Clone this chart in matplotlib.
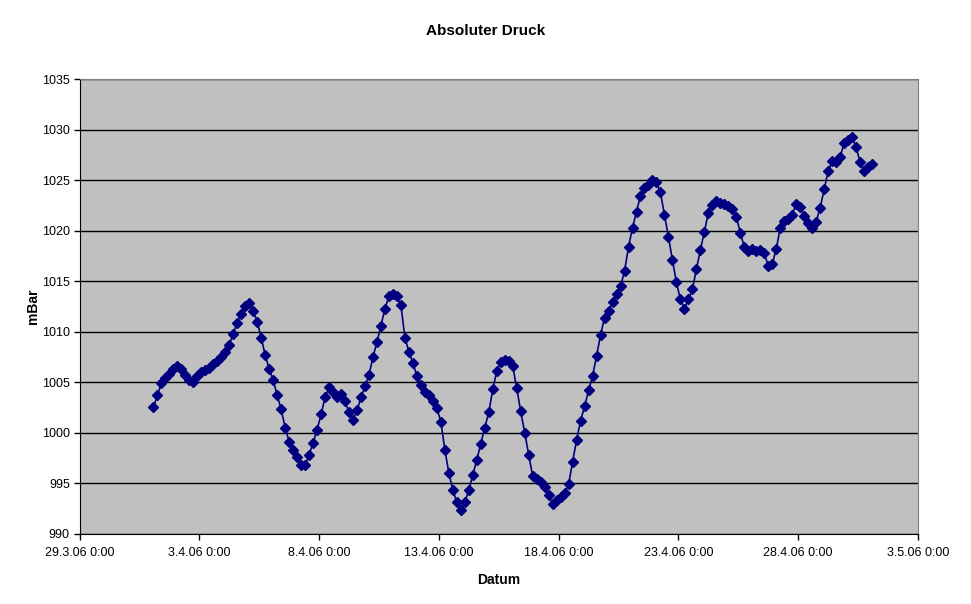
import datetime as dt
import numpy as np
import pandas as pd
import matplotlib
matplotlib.use("Agg")
import matplotlib.pyplot as plt
import matplotlib.dates as mdates
from matplotlib.ticker import FuncFormatter

plt.rcParams['font.family'] = ['Liberation Sans', 'DejaVu Sans']

# Messwerte alle 4 Stunden ab 1.4.06 2:00 (6 Werte pro Tag)
start = '2006-04-01 02:00'
druck = [
    1002.5, 1003.7, 1004.9, 1005.4, 1005.8, 1006.3,   # 1.4
    1006.6, 1006.3, 1005.7, 1005.2, 1005.0, 1005.6,   # 2.4
    1006.0, 1006.2, 1006.4, 1006.8, 1007.1, 1007.5,   # 3.4
    1008.0, 1008.7, 1009.8, 1010.9, 1011.8, 1012.5,   # 4.4
    1012.8, 1012.1, 1011.0, 1009.4, 1007.7, 1006.3,   # 5.4
    1005.2, 1003.7, 1002.3, 1000.5, 999.1, 998.3,     # 6.4
    997.6, 996.8, 996.8, 997.8, 999.0, 1000.3,        # 7.4
    1001.8, 1003.5, 1004.5, 1004.0, 1003.5, 1003.8,   # 8.4
    1003.1, 1002.0, 1001.3, 1002.2, 1003.5, 1004.6,   # 9.4
    1005.7, 1007.5, 1009.0, 1010.6, 1012.3, 1013.5,   # 10.4
    1013.7, 1013.5, 1012.6, 1009.4, 1008.0, 1006.9,   # 11.4
    1005.6, 1004.7, 1004.0, 1003.7, 1003.1, 1002.4,   # 12.4
    1001.1, 998.3, 996.0, 994.3, 993.1, 992.3,        # 13.4
    993.1, 994.3, 995.8, 997.3, 998.9, 1000.5,        # 14.4
    1002.0, 1004.3, 1006.1, 1007.0, 1007.2, 1007.1,   # 15.4
    1006.6, 1004.4, 1002.1, 1000.0, 997.8, 995.7,     # 16.4
    995.4, 995.1, 994.6, 993.8, 992.9, 993.3,         # 17.4
    993.6, 994.0, 994.9, 997.1, 999.3, 1001.2,        # 18.4
    1002.6, 1004.2, 1005.6, 1007.6, 1009.7, 1011.4,   # 19.4
    1012.1, 1012.9, 1013.7, 1014.5, 1016.0, 1018.4,   # 20.4
    1020.3, 1021.9, 1023.5, 1024.2, 1024.5, 1025.0,   # 21.4
    1024.8, 1023.8, 1021.6, 1019.4, 1017.1, 1014.9,   # 22.4
    1013.2, 1012.3, 1013.2, 1014.2, 1016.2, 1018.1,   # 23.4
    1019.9, 1021.8, 1022.6, 1023.0, 1022.8, 1022.7,   # 24.4
    1022.5, 1022.2, 1021.4, 1019.8, 1018.4, 1018.0,   # 25.4
    1018.2, 1018.0, 1018.1, 1017.8, 1016.5, 1016.7,   # 26.4
    1018.2, 1020.3, 1021.0, 1021.2, 1021.6, 1022.7,   # 27.4
    1022.4, 1021.5, 1020.8, 1020.3, 1020.9, 1022.3,   # 28.4
    1024.1, 1025.9, 1026.9, 1026.8, 1027.3, 1028.7,   # 29.4
    1029.0, 1029.3, 1028.3, 1026.8, 1025.9, 1026.3,   # 30.4
    1026.6,                                           # 1.5
]
zeit = pd.date_range(start, periods=len(druck), freq='4h')

y_ticks = [990, 995, 1000, 1005, 1010, 1015, 1020, 1025, 1030, 1035]
x_start = dt.datetime(2006, 3, 29)
x_ticks = [x_start + dt.timedelta(days=5 * i) for i in range(8)]

fig = plt.figure(figsize=(9.71, 6.04), dpi=100)
ax = fig.add_axes([0.0819, 0.1167, 0.8635, 0.7517])
ax.set_facecolor('#C0C0C0')

ax.plot(zeit, druck, color='#000080', lw=1.2, marker='D', markersize=5.5,
        markeredgecolor='#000080', markerfacecolor='#000080')

ax.set_xlim(x_ticks[0], x_ticks[-1])
ax.set_ylim(990, 1035)
ax.set_yticks(y_ticks)
ax.set_xticks(x_ticks)
ax.xaxis.set_major_formatter(FuncFormatter(
    lambda v, p: "%d.%d.06 0:00" % (mdates.num2date(v).day, mdates.num2date(v).month)))

ax.yaxis.grid(True, color='black', lw=1)
ax.set_axisbelow(True)
ax.tick_params(direction='out', length=4, width=1, labelsize=9, color='black')
ax.tick_params(axis='x', pad=6)
ax.tick_params(axis='y', pad=3)

for s in ['top', 'right']:
    ax.spines[s].set_color('#808080')
for s in ['left', 'bottom']:
    ax.spines[s].set_color('black')

ax.set_xlabel('Datum', fontsize=10, fontweight='bold', labelpad=10)
ax.set_ylabel('mBar', fontsize=10, fontweight='bold', labelpad=1)
fig.text(0.5, 1 - 31 / 604, 'Absoluter Druck', fontsize=11, fontweight='bold',
         ha='center', va='center')

fig.savefig('out.png', dpi=100)
